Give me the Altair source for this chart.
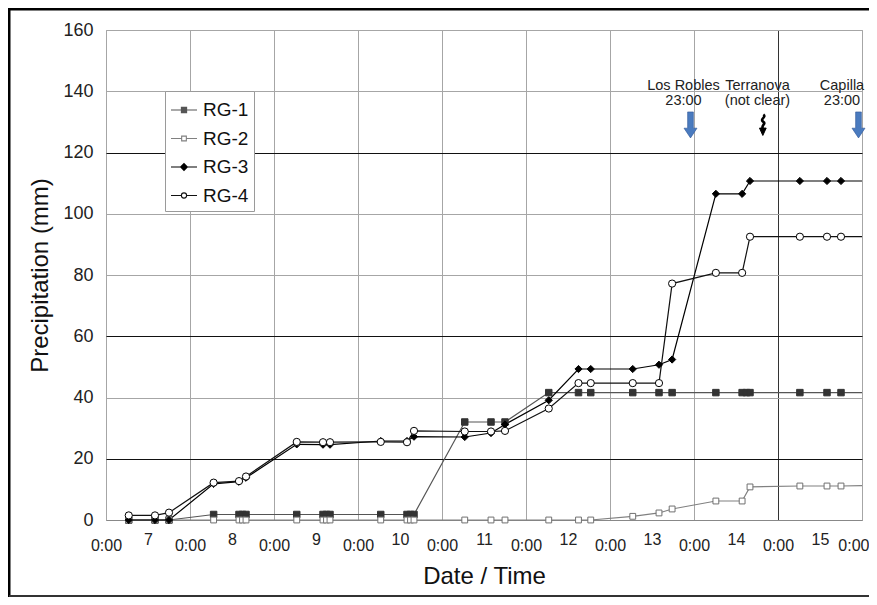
import altair as alt
import pandas as pd

FONT = "Liberation Sans, Arial, sans-serif"

series_names = ["RG-1", "RG-2", "RG-3", "RG-4"]

rg1_times = ["7 06:30", "7 14:00", "7 18:00", "8 06:45", "8 14:00", "8 15:00", "8 16:00",
             "9 06:30", "9 14:00", "9 15:00", "9 16:00", "10 06:30", "10 14:00", "10 15:00",
             "10 16:00", "11 06:30", "11 14:00", "11 18:00", "12 06:30", "12 15:00", "12 18:30",
             "13 06:30", "13 14:00", "13 17:45", "14 06:15", "14 13:45", "14 15:00", "14 16:00",
             "15 06:15", "15 14:00", "15 18:00"]
rg1_values = [0, 0, 0, 1.8, 1.8, 1.8, 1.8,
              1.8, 1.8, 1.8, 1.8, 1.8, 1.8, 1.8,
              1.8, 32.0, 32.0, 32.0, 41.6, 41.6, 41.6,
              41.6, 41.6, 41.6, 41.6, 41.6, 41.6, 41.6,
              41.6, 41.6, 41.6]
rg1_end = 41.6

rg2_times = ["7 06:30", "7 14:00", "7 18:00", "8 06:45", "8 14:00", "8 15:00", "8 16:00",
             "9 06:30", "9 14:00", "9 15:00", "9 16:00", "10 06:30", "10 14:00", "10 15:00",
             "10 16:00", "11 06:30", "11 14:00", "11 18:00", "12 06:30", "12 15:00", "12 18:30",
             "13 06:30", "13 14:00", "13 17:45", "14 06:15", "14 13:45", "14 16:00",
             "15 06:15", "15 14:00", "15 18:00"]
rg2_values = [0, 0, 0, 0, 0, 0, 0,
              0, 0, 0, 0, 0, 0, 0,
              0, 0, 0, 0, 0, 0, 0,
              1.2, 2.3, 3.6, 6.2, 6.2, 10.8,
              11.1, 11.1, 11.1]
rg2_end = 11.2

rg34_times = ["7 06:30", "7 14:00", "7 18:00", "8 06:45", "8 14:00", "8 16:00",
              "9 06:30", "9 14:00", "9 16:00", "10 06:30", "10 14:00", "10 16:00",
              "11 06:30", "11 14:00", "11 18:00", "12 06:30", "12 15:00", "12 18:30",
              "13 06:30", "13 14:00", "13 17:45", "14 06:15", "14 13:45", "14 16:00",
              "15 06:15", "15 14:00", "15 18:00"]
rg3_values = [0, 0, 0, 11.8, 12.5, 13.8,
              24.7, 24.6, 24.6, 25.8, 25.8, 27.2,
              27.1, 28.4, 31.2, 39.1, 49.3, 49.3,
              49.3, 50.7, 52.4, 106.5, 106.5, 110.7,
              110.7, 110.7, 110.7]
rg3_end = 110.7
rg4_values = [1.5, 1.5, 2.4, 12.2, 12.7, 14.2,
              25.5, 25.4, 25.4, 25.5, 25.4, 29.1,
              28.9, 28.9, 29.1, 36.4, 44.7, 44.7,
              44.7, 44.7, 77.2, 80.7, 80.7, 92.5,
              92.5, 92.5, 92.5]
rg4_end = 92.5

end_time = "16 00:00"

# annotations
ann_top = ["Los Robles", "Terranova", "Capilla"]
ann_bottom = ["23:00", "(not clear)", "23:00"]
ann_text_days = [6.875, 7.756, 8.762]
ann_line1_y = 141.7
ann_line2_y = 136.8
arrow_times = ["13 23:00", "14 19:40", "15 23:00"]
arrow_kinds = ["blue", "squiggle", "blue"]
arrow_y = 129.0

# styles per series
line_colors = ["#555555", "#808080", "#000000", "#111111"]
mark_shapes = ["square", "square", "diamond", "circle"]
mark_fills = ["#333333", "#ffffff", "#000000", "#ffffff"]
mark_strokes = ["#333333", "#707070", "#000000", "#000000"]
mark_sizes = [42, 34, 52, 52]


def sq(h):
    return f"M{-h},{-h}L{h},{-h}L{h},{h}L{-h},{h}Z"


def dm(h):
    return f"M{-h},0L0,{-h}L{h},0L0,{h}Z"


legend_paths = [
    "M-1,0L1,0" + sq(0.2) + sq(0.13) + sq(0.06),
    "M-1,0L-0.18,0M0.18,0L1,0" + sq(0.18),
    "M-1,0L1,0" + dm(0.26) + dm(0.18) + dm(0.1) + dm(0.03),
    "M-1,0L-0.2,0M0.2,0L1,0M-0.2,0A0.2,0.2 0 1,0 0.2,0A0.2,0.2 0 1,0 -0.2,0Z",
]


def to_day(s):
    d, hm = s.split()
    h, m = hm.split(":")
    return int(d) - 7 + int(h) / 24 + int(m) / 1440


rows = []
for name, times, vals, endv in [
    ("RG-1", rg1_times, rg1_values, rg1_end),
    ("RG-2", rg2_times, rg2_values, rg2_end),
    ("RG-3", rg34_times, rg3_values, rg3_end),
    ("RG-4", rg34_times, rg4_values, rg4_end),
]:
    for t, v in zip(times, vals):
        rows.append({"series": name, "t": to_day(t), "v": v, "marker": True})
    rows.append({"series": name, "t": to_day(end_time), "v": endv, "marker": False})
df = pd.DataFrame(rows)

ann_rows = []
for a, b, x in zip(ann_top, ann_bottom, ann_text_days):
    ann_rows.append({"t": x, "v": ann_line1_y, "label": a})
    ann_rows.append({"t": x, "v": ann_line2_y, "label": b})
ann_df = pd.DataFrame(ann_rows)

arrow_df = pd.DataFrame({"t": [to_day(s) for s in arrow_times], "v": [arrow_y] * 3, "kind": arrow_kinds})

x_scale = alt.Scale(domain=[0, 9], nice=False, zero=False)
y_scale = alt.Scale(domain=[0, 160], nice=False)

x_ticks = [i / 2 for i in range(19)]

x_axis = alt.Axis(
    values=x_ticks,
    labelExpr="datum.value % 1 == 0 ? '0:00' : '' + (floor(datum.value) + 7)",
    labelFontSize=16,
    labelFont=FONT,
    labelColor="#222",
    labelPadding={"condition": {"test": "datum.value % 1 == 0", "value": 17}, "value": 11},
    labelAlign={"condition": {"test": "datum.value == 9", "value": "right"}, "value": "center"},
    labelOffset={"condition": {"test": "datum.value == 9", "value": 7}, "value": 0},
    labelBaseline="top",
    labelFlush=False,
    labelOverlap=False,
    labelBound=False,
    ticks=False,
    domainColor="#888",
    gridOpacity={"condition": {"test": "datum.value % 1 != 0", "value": 0}, "value": 1},
    gridColor={"condition": {"test": "datum.value == 8", "value": "#333"}, "value": "#a6a6a6"},
    title="Date / Time",
    titleFontSize=24,
    titleFontWeight="normal",
    titleFont=FONT,
    titleColor="#111",
    titleY=44,
)

y_axis = alt.Axis(
    values=list(range(0, 161, 20)),
    labelFontSize=18,
    labelFont=FONT,
    labelColor="#222",
    labelPadding=13,
    ticks=False,
    domain=False,
    gridColor={"condition": {"test": "datum.value == 20 || datum.value == 60 || datum.value == 120",
                             "value": "#111"}, "value": "#a6a6a6"},
    title="Precipitation (mm)",
    titleFontSize=24,
    titleFontWeight="normal",
    titleFont=FONT,
    titleColor="#111",
    titleX=-54,
)

X = alt.X("t:Q", scale=x_scale, axis=x_axis)
Y = alt.Y("v:Q", scale=y_scale, axis=y_axis)
Xp = alt.X("t:Q", scale=x_scale)
Yp = alt.Y("v:Q", scale=y_scale)

lines = alt.Chart(df).mark_line(strokeWidth=1.2).encode(
    x=X,
    y=Y,
    color=alt.Color("series:N", scale=alt.Scale(domain=series_names, range=line_colors), legend=None),
    order=alt.Order("t:Q"),
)

# legend source: one point per series, placed behind the legend box (the box is opaque white)
legend_df = pd.DataFrame({"series": series_names, "t": [1.0] * 4, "v": [122.0] * 4})
legend = alt.Legend(
    title=None,
    orient="none",
    legendX=59,
    legendY=61,
    fillColor="white",
    strokeColor="#9a9a9a",
    padding=5,
    labelFontSize=19,
    labelFont=FONT,
    labelColor="#111",
    labelOffset=5,
    rowPadding=4.5,
    symbolSize=676,
    symbolStrokeWidth=1.1,
    symbolStrokeColor="#333",
    cornerRadius=0,
)
legend_src = alt.Chart(legend_df).mark_point(opacity=1, size=676, strokeWidth=1.1, color="#333",
                                             filled=False).encode(
    x=Xp,
    y=Yp,
    shape=alt.Shape("series:N", scale=alt.Scale(domain=series_names, range=legend_paths), legend=legend),
)

point_layers = []
for i, name in enumerate(series_names):
    point_layers.append(
        alt.Chart(df).transform_filter(f"datum.marker && datum.series == '{name}'").mark_point(
            shape=mark_shapes[i], size=mark_sizes[i], filled=True, fill=mark_fills[i],
            stroke=mark_strokes[i], strokeWidth=1, opacity=1).encode(x=Xp, y=Yp)
    )

ann_text = alt.Chart(ann_df).mark_text(fontSize=14.5, font=FONT, color="#222", baseline="middle",
                                       align="center").encode(x=Xp, y=Yp, text="label:N")

blue_arrow = "M-0.22,-1L0.22,-1L0.22,0.25L0.5,0.25L0,1L-0.5,0.25L-0.22,0.25Z"
arrows_blue = alt.Chart(arrow_df).transform_filter("datum.kind == 'blue'").mark_point(
    shape=blue_arrow, size=676, filled=True, fill="#4a7bbf", stroke="#2f5597",
    strokeWidth=0.6, opacity=1).encode(x=Xp, y=Yp)

squiggle = "M0.05,-1C0.4,-0.75 -0.35,-0.55 0.05,-0.3C0.35,-0.12 -0.2,0.05 0,0.35"
arrows_sq = alt.Chart(arrow_df).transform_filter("datum.kind == 'squiggle'").mark_point(
    shape=squiggle, size=441, filled=False, stroke="#000", strokeWidth=2.6, opacity=1).encode(x=Xp, y=Yp)
arrows_head = alt.Chart(arrow_df).transform_filter("datum.kind == 'squiggle'").mark_point(
    shape="M-0.32,0.3L0.32,0.3L0,1Z", size=441, filled=True, fill="#000", stroke="#000",
    strokeWidth=1, opacity=1).encode(x=Xp, y=Yp)

one = pd.DataFrame({"a": [0]})
frame_top = alt.Chart(one).mark_rule(color="#000", strokeWidth=3).encode(
    x=alt.value(-97), x2=alt.value(763), y=alt.value(-21))
frame_left = alt.Chart(one).mark_rule(color="#000", strokeWidth=3).encode(
    x=alt.value(-97), y=alt.value(-22), y2=alt.value(567))
frame_bottom = alt.Chart(one).mark_rule(color="#333", strokeWidth=2).encode(
    x=alt.value(-97), x2=alt.value(763), y=alt.value(566))

chart = alt.layer(
    legend_src, lines, *point_layers, ann_text, arrows_blue, arrows_sq, arrows_head,
    frame_top, frame_left, frame_bottom
).properties(
    width=756,
    height=490,
    autosize=alt.AutoSizeParams(type="none"),
    padding={"left": 98, "top": 22, "right": 7, "bottom": 77},
    background="white",
).configure_view(stroke="#a6a6a6", strokeWidth=1).configure_axis(gridWidth=1)

chart.save("out.html", embed_options={"renderer": "svg", "actions": False})
